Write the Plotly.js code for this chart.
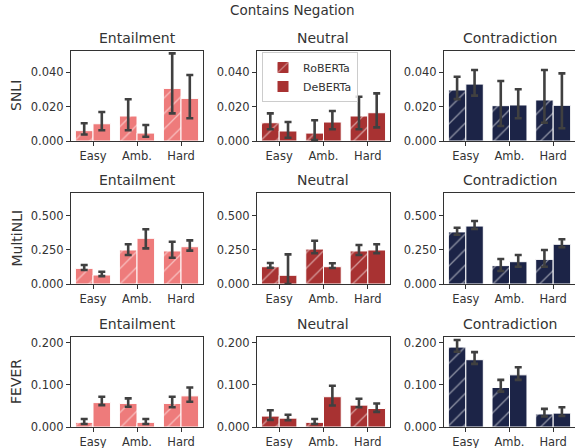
<!DOCTYPE html>
<html><head><meta charset="utf-8">
<script src="https://cdn.plot.ly/plotly-3.0.1.min.js"></script>
<style>html,body{margin:0;padding:0;background:#fff}#chart{width:575px;height:448px}</style>
</head><body><div id="chart"></div>
<script>
const categories = ['Easy', 'Amb.', 'Hard'];
const datasets = ['SNLI', 'MultiNLI', 'FEVER'];
const labels = ['Entailment', 'Neutral', 'Contradiction'];
const models = ['RoBERTa', 'DeBERTa'];

// values per dataset: [Entailment, Neutral, Contradiction] x [Easy, Amb., Hard]
const snliRobMean = [[0.006, 0.0145, 0.0305], [0.0106, 0.0046, 0.0145], [0.0296, 0.0205, 0.0238]];
const snliRobLo   = [[0.0038, 0.0062, 0.016], [0.0068, 0.0006, 0.0068], [0.0243, 0.0087, 0.0106]];
const snliRobHi   = [[0.0103, 0.0242, 0.0508], [0.016, 0.012, 0.0257], [0.0373, 0.0348, 0.0412]];
const snliDebMean = [[0.010, 0.0046, 0.0247], [0.0058, 0.011, 0.0164], [0.033, 0.0209, 0.0207]];
const snliDebLo   = [[0.0062, 0.0025, 0.0132], [0.0019, 0.0068, 0.0079], [0.0263, 0.0132, 0.0074]];
const snliDebHi   = [[0.0168, 0.0093, 0.0383], [0.011, 0.0174, 0.0276], [0.0412, 0.030, 0.0392]];

const mnliRobMean = [[0.115, 0.25, 0.243], [0.127, 0.257, 0.243], [0.383, 0.135, 0.181]];
const mnliRobLo   = [[0.103, 0.213, 0.193], [0.12, 0.226, 0.213], [0.362, 0.096, 0.127]];
const mnliRobHi   = [[0.140, 0.292, 0.311], [0.154, 0.318, 0.287], [0.414, 0.184, 0.25]];
const mnliDebMean = [[0.066, 0.336, 0.274], [0.064, 0.127, 0.25], [0.426, 0.164, 0.292]];
const mnliDebLo   = [[0.058, 0.262, 0.245], [0.0, 0.118, 0.226], [0.404, 0.127, 0.27]];
const mnliDebHi   = [[0.090, 0.402, 0.321], [0.218, 0.152, 0.292], [0.463, 0.213, 0.329]];

const feverRobMean = [[0.011, 0.056, 0.056], [0.026, 0.011, 0.052], [0.190, 0.094, 0.031]];
const feverRobLo   = [[0.007, 0.048, 0.047], [0.017, 0.007, 0.047], [0.179, 0.084, 0.025]];
const feverRobHi   = [[0.019, 0.068, 0.072], [0.040, 0.019, 0.067], [0.207, 0.112, 0.043]];
const feverDebMean = [[0.058, 0.011, 0.074], [0.021, 0.072, 0.044], [0.160, 0.124, 0.033]];
const feverDebLo   = [[0.052, 0.007, 0.060], [0.016, 0.051, 0.036], [0.150, 0.112, 0.026]];
const feverDebHi   = [[0.072, 0.019, 0.094], [0.029, 0.098, 0.056], [0.178, 0.142, 0.047]];

const yTicks = [[0, 0.02, 0.04], [0, 0.25, 0.5], [0, 0.1, 0.2]];
const yMax = [0.0522, 0.669, 0.214];

const table = [
  {rob: [snliRobMean, snliRobLo, snliRobHi], deb: [snliDebMean, snliDebLo, snliDebHi]},
  {rob: [mnliRobMean, mnliRobLo, mnliRobHi], deb: [mnliDebMean, mnliDebLo, mnliDebHi]},
  {rob: [feverRobMean, feverRobLo, feverRobHi], deb: [feverDebMean, feverDebLo, feverDebHi]}
];

const colors = ['#EE7B7B', '#A83232', '#1C2447'];
const W = 575, H = 448;
const colPx = [[71, 203], [257, 390], [444, 576]];
const rowPx = [[51, 141], [193, 284], [337, 427]];
const txt = '#333333';
const FONT = 'DejaVu Sans, sans-serif';

const traces = [];
const layout = {
  width: W, height: H, margin: {l: 0, r: 0, t: 0, b: 0},
  paper_bgcolor: '#fff', plot_bgcolor: '#fff',
  barmode: 'group', bargap: 0.2, bargroupgap: 0,
  font: {family: FONT, color: txt, size: 11.5},
  showlegend: true,
  legend: {x: 262 / W, y: 1 - 52 / H, xanchor: 'left', yanchor: 'top',
    bgcolor: 'rgba(255,255,255,0.8)', bordercolor: '#cccccc', borderwidth: 1,
    font: {family: FONT, size: 11, color: txt}, tracegroupgap: 0, itemwidth: 30},
  annotations: [{text: 'Contains Negation', x: 292 / W, y: 1 - 10 / H, xref: 'paper', yref: 'paper',
    showarrow: false, xanchor: 'center', yanchor: 'middle', font: {size: 13.5, color: txt}}]
};

for (let r = 0; r < 3; r++) {
  for (let c = 0; c < 3; c++) {
    const idx = r * 3 + c + 1;
    const xa = 'x' + (idx === 1 ? '' : idx), ya = 'y' + (idx === 1 ? '' : idx);
    const xk = 'xaxis' + (idx === 1 ? '' : idx), yk = 'yaxis' + (idx === 1 ? '' : idx);
    const dom = [colPx[c][0] / W, Math.min(1, colPx[c][1] / W)];
    const ydom = [1 - rowPx[r][1] / H, 1 - rowPx[r][0] / H];
    layout[xk] = {domain: dom, anchor: ya, type: 'category', range: [-0.5, 2.5],
      showline: true, mirror: true, linecolor: '#333', linewidth: 1,
      ticks: 'outside', ticklen: 4, tickcolor: '#333', showgrid: false, zeroline: false,
      tickfont: {size: 11.5, color: txt}, fixedrange: true};
    layout[yk] = {domain: ydom, anchor: xa, range: [0, yMax[r]],
      tickvals: yTicks[r], tickformat: '.3f',
      showline: true, mirror: true, linecolor: '#333', linewidth: 1,
      ticks: 'outside', ticklen: 4, tickcolor: '#333', showgrid: false, zeroline: false,
      tickfont: {size: 11.5, color: txt}, fixedrange: true};
    layout.annotations.push({text: labels[c], xref: 'paper', yref: 'paper',
      x: (dom[0] + colPx[c][1] / W) / 2, y: 1 - (rowPx[r][0] - 13) / H,
      showarrow: false, xanchor: 'center', yanchor: 'middle', font: {size: 14, color: txt}});
    ['rob', 'deb'].forEach((m, mi) => {
      const [mean, lo, hi] = table[r][m];
      const vals = mean[c];
      traces.push({
        type: 'bar', x: categories, y: vals, xaxis: xa, yaxis: ya,
        name: models[mi], legendgroup: models[mi],
        showlegend: (r === 0 && c === 1),
        marker: {color: colors[c], line: {color: '#ffffff', width: 1},
          pattern: mi === 0 ? {shape: '/', fgcolor: '#ffffff', bgcolor: colors[c], size: 11, solidity: 0.12, fillmode: 'overlay'} : {shape: ''}},
        error_y: {type: 'data', symmetric: false,
          array: vals.map((v, i) => hi[c][i] - v),
          arrayminus: vals.map((v, i) => v - lo[c][i]),
          color: '#404040', thickness: 2.6, width: 3.5},
        hoverinfo: 'skip'
      });
    });
  }
  const rc = (rowPx[r][0] + rowPx[r][1]) / 2;
  layout.annotations.push({text: datasets[r], xref: 'paper', yref: 'paper',
    x: 16 / W, y: 1 - rc / H, textangle: -90, showarrow: false,
    xanchor: 'center', yanchor: 'middle', font: {size: 14, color: txt}});
}

Plotly.newPlot('chart', traces, layout, {displayModeBar: false, staticPlot: true});
</script></body></html>
